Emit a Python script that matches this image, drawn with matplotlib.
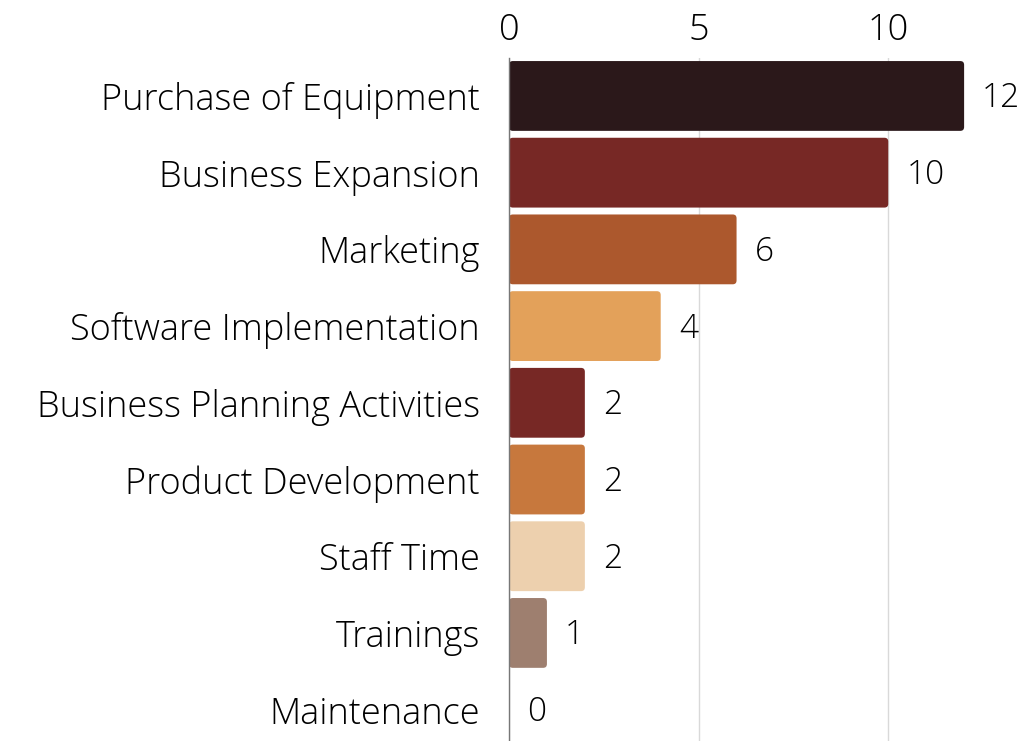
import matplotlib.pyplot as plt
from matplotlib.patches import FancyBboxPatch

categories = ['Purchase of Equipment', 'Business Expansion', 'Marketing',
              'Software Implementation', 'Business Planning Activities',
              'Product Development', 'Staff Time', 'Trainings', 'Maintenance']
values = [12, 10, 6, 4, 2, 2, 2, 1, 0]
colors = ['#2B181A', '#772825', '#AC582D', '#E3A15A', '#772825',
          '#C7783D', '#EDD0AE', '#9E7F6F', '#9E7F6F']
xticks = [0, 5, 10]

plt.rcParams['font.family'] = ['Open Sans', 'DejaVu Sans']
plt.rcParams['font.weight'] = 'light'
fs = 26

fig = plt.figure(figsize=(10.23, 7.41), dpi=100)
ax = fig.add_axes([509 / 1023, -7 / 741, 512 / 1023, 690.4 / 741])

y = list(range(len(categories)))
bars = ax.barh(y, values, height=0.91, color=colors)

# swap plain rectangles for rounded ones
for b in bars:
    b.set_visible(False)
    if b.get_width() <= 0:
        continue
    rp = FancyBboxPatch((b.get_x(), b.get_y()), b.get_width(), b.get_height(),
                        boxstyle='round,pad=0,rounding_size=0.1',
                        mutation_aspect=0.5, facecolor=b.get_facecolor(),
                        edgecolor='none', zorder=2)
    ax.add_patch(rp)

for yi, v in zip(y, values):
    ax.annotate(str(v), xy=(v, yi), xytext=(13, -2), textcoords='offset points',
                ha='left', va='center', fontsize=24, color='black')

ax.set_xlim(0, 13.5)
ax.set_ylim(len(categories) - 0.5, -0.5)
ax.set_yticks(y)
ax.set_yticklabels(categories, fontsize=fs)
ax.xaxis.tick_top()
ax.set_xticks(xticks)
ax.set_xticklabels([str(t) for t in xticks], fontsize=fs)
ax.tick_params(axis='both', length=0)
ax.tick_params(axis='y', pad=21)
ax.tick_params(axis='x', pad=6)

for s in ['top', 'right', 'bottom']:
    ax.spines[s].set_visible(False)
ax.spines['left'].set_color('#777777')
ax.spines['left'].set_linewidth(1)

ax.grid(axis='x', color='#d9d9d9', linewidth=1)
ax.set_axisbelow(True)

plt.savefig('out.png', dpi=100)
